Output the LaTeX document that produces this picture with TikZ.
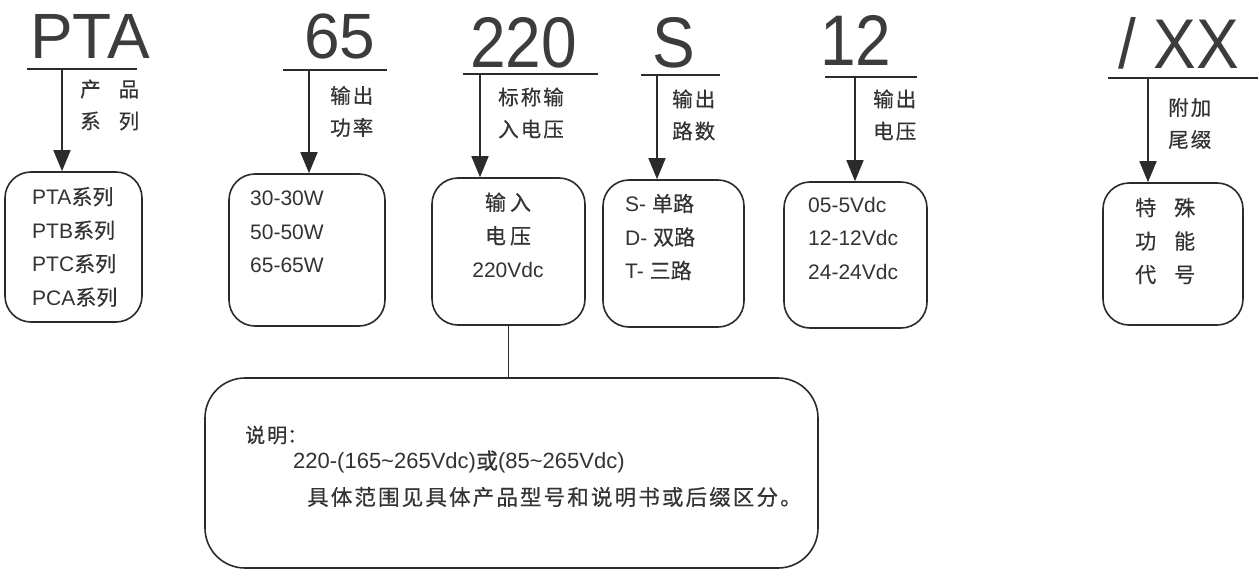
\documentclass[tikz,border=0pt]{standalone}
\usepackage{fontspec}
\setmainfont{Liberation Sans}
\newfontfamily\cjk{Noto Sans CJK SC}[FakeBold=0.5]
\newfontfamily\cjkw{Noto Sans CJK SC}[LetterSpace=10,FakeBold=0.5]
\usetikzlibrary{arrows.meta}
\definecolor{linec}{HTML}{2B2B2B}
\definecolor{txtc}{HTML}{333333}
\definecolor{bigc}{HTML}{3C3C3C}
\begin{document}
\begin{tikzpicture}[x=1pt,y=-1pt,
  rbox/.style={draw=linec, line width=1.6pt, rounded corners=26pt, inner sep=0pt},
  big/.style={anchor=base west, inner sep=0pt, text=bigc, font=\fontsize{64}{64}\selectfont},
  lab/.style={anchor=west, inner sep=0pt, text=txtc, font=\fontsize{20.5}{32}\selectfont\cjkw, align=left},
  item/.style={anchor=west, inner sep=0pt, text=txtc, font=\fontsize{21}{33.5}\selectfont, align=left},
  arr/.style={draw=linec, line width=1.6pt, -{Triangle[length=21pt,width=17pt]}},
  uline/.style={draw=linec, line width=1.6pt}]
\useasboundingbox (0,0) rectangle (1258,570);
\fill[white] (0,0) rectangle (1258,570);

% code letters
\node[big] (c1) at (30,58) {PTA};
\node[big] (c2) at (304,58) {65};
\node[big] (c3) at (470,67) {\scalebox{1}[1.12]{220}};
\node[big] (c4) at (652,67) {\scalebox{1}[1.12]{S}};
\node[big] (c5) at (820,65) {\scalebox{1}[1.12]{12}};
\node[big] (c6) at (1118,68) {\scalebox{1}[1.1]{/ XX}};

% underlines
\coordinate (u1a) at (27,69);   \coordinate (u1b) at (137,69);
\coordinate (u2a) at (283,70);  \coordinate (u2b) at (387,70);
\coordinate (u3a) at (463,74);  \coordinate (u3b) at (598,74);
\coordinate (u4a) at (641,75);  \coordinate (u4b) at (720,75);
\coordinate (u5a) at (825,77);  \coordinate (u5b) at (917,77);
\coordinate (u6a) at (1108,78); \coordinate (u6b) at (1258,78);
\draw[uline] (u1a) -- (u1b);
\draw[uline] (u2a) -- (u2b);
\draw[uline] (u3a) -- (u3b);
\draw[uline] (u4a) -- (u4b);
\draw[uline] (u5a) -- (u5b);
\draw[uline] (u6a) -- (u6b);
\coordinate (a1) at (62,69);
\coordinate (a2) at (309,70);
\coordinate (a3) at (480,74);
\coordinate (a4) at (657,75);
\coordinate (a5) at (855,77);
\coordinate (a6) at (1148,78);

% boxes
\node[rbox, minimum width=137pt, minimum height=150pt] (b1) at (73.5,247) {};
\node[rbox, minimum width=156pt, minimum height=152pt] (b2) at (307,250) {};
\node[rbox, minimum width=153pt, minimum height=147pt] (b3) at (508.5,251.5) {};
\node[rbox, minimum width=141pt, minimum height=147pt] (b4) at (673.5,253.5) {};
\node[rbox, minimum width=143pt, minimum height=146pt] (b5) at (855.5,255) {};
\node[rbox, minimum width=140pt, minimum height=142pt] (b6) at (1173,254) {};
\node[rbox, rounded corners=40pt, minimum width=613pt, minimum height=190pt] (bb) at (511.5,473) {};

% arrows
\draw[arr] (a1) -- (a1 |- b1.north);
\draw[arr] (a2) -- (a2 |- b2.north);
\draw[arr] (a3) -- (a3 |- b3.north);
\draw[arr] (a4) -- (a4 |- b4.north);
\draw[arr] (a5) -- (a5 |- b5.north);
\draw[arr] (a6) -- (a6 |- b6.north);
\draw[uline] (b3.south) -- (b3.south |- bb.north);

% labels
\node[lab] (l1) at (80,105) {产\hspace{18pt}品\\系\hspace{18pt}列};
\node[lab] (l2) at (330,111.5) {输出\\功率};
\node[lab] (l3) at (498,113) {标称输\\入电压};
\node[lab] (l4) at (672,115) {输出\\路数};
\node[lab] (l5) at (873,115) {输出\\电压};
\node[lab] (l6) at (1168,123.5) {附加\\尾缀};

% box contents
\node[item] (t1) at (32,247) {PTA{\cjk 系列}\\PTB{\cjk 系列}\\PTC{\cjk 系列}\\PCA{\cjk 系列}};
\node[item] (t2) at (250,232) {30-30W\\50-50W\\65-65W};
\node[item, anchor=center, align=center] (t3) at (508,235) {{\cjk 输\hspace{4pt}入}\\{\cjk 电\hspace{4pt}压}\\220Vdc};
\node[item] (t4) at (625,237) {S- {\cjk 单路}\\D- {\cjk 双路}\\T- {\cjk 三路}};
\node[item] (t5) at (808,238) {05-5Vdc\\12-12Vdc\\24-24Vdc};
\node[item] (t6) at (1135,241) {{\cjk 特\hspace{18pt}殊}\\{\cjk 功\hspace{18pt}能}\\{\cjk 代\hspace{18pt}号}};

% note
\node[anchor=west, inner sep=0pt, text=txtc, font=\fontsize{20}{20}\selectfont\cjk] (n1) at (245,435) {说\hspace{2pt}明：};
\node[anchor=west, inner sep=0pt, text=txtc, font=\fontsize{22}{22}\selectfont] (n2) at (293,462) {220-(165{\char`\~}265Vdc){\cjk 或}(85{\char`\~}265Vdc)};
\node[anchor=west, inner sep=0pt, text=txtc, font=\fontsize{21.5}{22}\selectfont\cjkw] (n3) at (307,497) {具体范围见具体产品型号和说明书或后缀区分。};
\end{tikzpicture}
\end{document}
